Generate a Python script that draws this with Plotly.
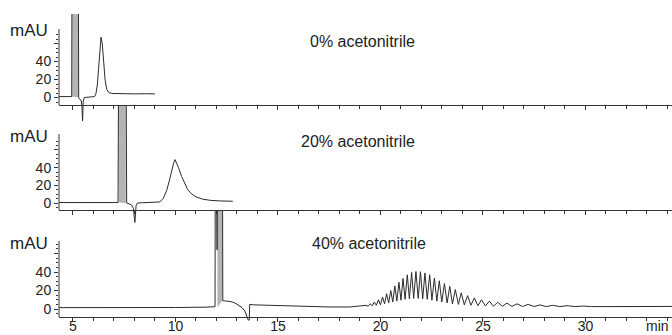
import plotly.graph_objects as go

# ---------------- data (time in min, signal in mAU) ----------------
labels = ["0% acetonitrile", "20% acetonitrile", "40% acetonitrile"]

# 0 % acetonitrile
p1_t = [4.32, 4.6, 4.9, 4.94, 4.95, 5.27, 5.28, 5.33, 5.4, 5.44, 5.47, 5.5, 5.55, 5.7, 5.9,
        6.05, 6.12, 6.19, 6.25, 6.31, 6.37, 6.43, 6.5, 6.57, 6.65, 6.75, 6.9, 7.2, 7.6, 8.0, 8.5, 9.0]
p1_v = [1.0, 0.8, 1.0, 1.0, 95, 95, 0, -2, -3, -10, -26, -5, 0, 0.5, 0.5,
        1.0, 4, 14, 32, 55, 67, 60, 38, 19, 9, 5.5, 4.5, 4.2, 4.3, 4.0, 4.2, 4.0]
p1_sat_t = [4.97, 4.97, 5.25, 5.25]
p1_sat_v = [1.0, 95, 95, 0]

# 20 % acetonitrile
p2_t = [4.32, 5.5, 7.0, 7.2, 7.22, 7.6, 7.62, 7.7, 7.85, 7.95, 8.02, 8.08, 8.15, 8.4, 8.8, 9.1,
        9.24, 9.4, 9.57, 9.7, 9.81, 9.9, 9.98, 10.05, 10.15, 10.3, 10.45, 10.6, 10.8, 11.0, 11.3,
        11.7, 12.2, 12.8]
p2_v = [0.5, 0.5, 0.5, 0.5, 112, 112, 0, -1, -2, -6, -22, -3, 0, 0.3, 0.5, 0.8,
        1.2, 5, 14, 25, 36, 44, 49, 46, 40, 30, 22, 15, 10, 7, 4.5,
        3, 2.3, 2]
p2_sat_t = [7.25, 7.25, 7.57, 7.57]
p2_sat_v = [0.5, 112, 112, 0]

# 40 % acetonitrile : baseline / injection part
p3_t = [4.32, 6.0, 8.0, 10.0, 11.5, 11.9, 11.93, 11.94, 12.02, 12.03, 12.04, 12.3, 12.31, 12.5,
        12.7, 12.9, 13.1, 13.25, 13.38, 13.48, 13.55, 13.6, 13.62, 13.8, 14.2, 14.8, 15.5, 16.4,
        17.5, 18.5, 18.9, 19.15]
p3_v = [1.5, 1.4, 1.5, 1.6, 2.0, 2.5, 2.5, 110, 110, 64, 110, 110, 9, 8.5,
        8, 6.5, 4, 1.5, -2, -7, -12, -12, 5, 4.5, 4.2, 3.5, 3.0, 2.5,
        2.2, 2.2, 2.8, 3.2]
p3_sat_t = [12.06, 12.06, 12.28, 12.28]
p3_sat_v = [2.5, 110, 110, 9]

# oligomer ladder : peak apexes and the valleys that follow them
osc_peak_t = [19.3, 19.5, 19.7, 19.9, 20.1, 20.3, 20.5, 20.7, 20.9, 21.1, 21.31, 21.52, 21.73,
              21.95, 22.17, 22.4, 22.63, 22.87, 23.12, 23.38, 23.65, 23.94, 24.25, 24.58, 24.93,
              25.31, 25.72, 26.17, 26.66, 27.2, 27.78, 28.4, 29.1, 29.9]
osc_peak_v = [4, 5.5, 7.5, 10, 13, 16.5, 20, 25, 29, 33, 37, 39.5, 40.5,
              40.3, 39, 37, 33.5, 30.5, 27.5, 24.5, 21, 17.5, 14.5, 12, 10,
              8.5, 7.3, 6.4, 5.6, 5, 4.4, 4, 3.6, 3.2]
osc_valley_t = [19.4, 19.6, 19.8, 20.0, 20.2, 20.4, 20.6, 20.8, 21.0, 21.2, 21.41, 21.62, 21.84,
                22.06, 22.28, 22.51, 22.75, 22.99, 23.25, 23.51, 23.8, 24.09, 24.41, 24.75, 25.12,
                25.51, 25.94, 26.41, 26.93, 27.49, 28.09, 28.75, 29.5, 30.3]
osc_valley_v = [3, 3.5, 4, 4.5, 5.5, 6.5, 7.5, 8.5, 9.5, 10.5, 11, 11.5, 11.5,
                11, 10.5, 9.5, 8.5, 7.5, 6.5, 5.5, 5, 4.5, 4, 3.5, 3.2,
                3, 2.9, 2.8, 2.7, 2.7, 2.6, 2.6, 2.6, 2.6]
tail_t = [31.0, 32.0, 33.0, 34.22]
tail_v = [2.8, 2.6, 2.7, 2.8]

y_tickvals = [0, 20, 40, 60]
y_ticktext = ["0", "20", "40", ""]
y_minor_vals = [-5, 5, 10, 15, 25, 30, 35, 45, 50, 55, 65, 70]
x_tickvals = [5, 10, 15, 20, 25, 30]
x_minor_vals = [m for m in range(5, 35) if m % 5]

# ---------------- build the 40 % trace ----------------
osc = sorted(list(zip(osc_peak_t, osc_peak_v)) + list(zip(osc_valley_t, osc_valley_v)))
p3_all_t = p3_t + [a for a, _ in osc] + tail_t
p3_all_v = p3_v + [b for _, b in osc] + tail_v

# ---------------- layout geometry (pixels of the 672x335 page) ----------------
W, H = 672, 335
ML = 59
FONT = "Liberation Sans, Arial, Helvetica, sans-serif"
LINE = "#2b2b2b"
AX = "#333333"

def pf(py):
    return 1 - py / H

# (axis top px, axis bottom px, zero px, px per mAU, window top px, window bottom px)
geo = [
    (29, 105, 97.5, 0.90, 14, 125),
    (134, 210, 203.0, 0.885, 106, 228),
    (241, 317, 309.0, 0.925, 211, 325),
]

fig = go.Figure()
layout = dict(
    width=W, height=H,
    margin=dict(l=ML, r=0, t=0, b=0, autoexpand=False),
    paper_bgcolor="white", plot_bgcolor="rgba(0,0,0,0)",
    showlegend=False,
    font=dict(family=FONT, size=14, color="#222"),
)

series = [(p1_t, p1_v, p1_sat_t, p1_sat_v),
          (p2_t, p2_v, p2_sat_t, p2_sat_v),
          (p3_all_t, p3_all_v, p3_sat_t, p3_sat_v)]

shapes = []
for i, (top, bot, zero, ppu, etop, ebot) in enumerate(geo):
    n = i + 1
    xs = "" if n == 1 else str(n)

    def val(py, zero=zero, ppu=ppu):
        return (zero - py) / ppu

    layout[f"xaxis{xs}"] = dict(
        domain=[0, 1], range=[4.32, 34.22], anchor="free", position=pf(bot),
        showline=True, linecolor=AX, linewidth=1.4 if n == 3 else 1,
        ticks="outside", ticklen=4, tickcolor=AX, tickwidth=1,
        tickmode="array", tickvals=x_tickvals, showticklabels=(n == 3),
        ticklabelstandoff=-8,
        tickfont=dict(size=14, color="#222", family=FONT),
        minor=dict(tickmode="array", tickvals=x_minor_vals, ticks="outside",
                   ticklen=3, tickcolor=AX),
        showgrid=False, zeroline=False, fixedrange=True, automargin=False,
    )
    layout[f"yaxis{xs}"] = dict(
        domain=[pf(ebot), pf(etop)], range=[val(ebot), val(etop)], anchor=f"x{xs}",
        showline=False,
        ticks="outside", ticklen=4, tickcolor=AX,
        tickmode="array", tickvals=y_tickvals, ticktext=y_ticktext,
        tickfont=dict(size=14, color="#222", family=FONT),
        minor=dict(tickmode="array", tickvals=y_minor_vals, ticks="outside",
                   ticklen=2, tickcolor=AX),
        showgrid=False, zeroline=False, fixedrange=True, automargin=False,
    )
    # vertical axis line (only over the calibrated part of the window)
    shapes.append(dict(type="line", xref="paper", yref="paper", x0=0, x1=0,
                       y0=pf(bot), y1=pf(top), line=dict(color=AX, width=1)))

    t, v, st, sv = series[i]
    fig.add_trace(go.Scatter(x=st, y=sv, mode="lines", fill="toself",
                             fillcolor="#b4b4b4", line=dict(color="#b4b4b4", width=0.5),
                             xaxis=f"x{xs}", yaxis=f"y{xs}", hoverinfo="skip"))
    fig.add_trace(go.Scatter(x=t, y=v, mode="lines", line=dict(color=LINE, width=1),
                             xaxis=f"x{xs}", yaxis=f"y{xs}"))

annotations = []
for i, (top, bot, zero, ppu, etop, ebot) in enumerate(geo):
    annotations.append(dict(text="mAU", xref="paper", yref="paper", x=0, y=pf(top + 2),
                            xanchor="right", yanchor="middle", xshift=-9, showarrow=False,
                            font=dict(size=17, family=FONT, color="#222")))
label_pos = [(362, 42), (358, 141), (369, 243)]
for lab, (lx, ly) in zip(labels, label_pos):
    annotations.append(dict(text=lab, xref="paper", yref="paper", x=(lx - ML) / (W - ML),
                            y=pf(ly), xanchor="center", yanchor="middle", showarrow=False,
                            font=dict(size=16, family=FONT, color="#222")))
annotations.append(dict(text="min", xref="paper", yref="paper", x=(657 - ML) / (W - ML),
                        y=pf(326), xanchor="center", yanchor="middle", showarrow=False,
                        font=dict(size=14, family=FONT, color="#222")))
layout["annotations"] = annotations
layout["shapes"] = shapes

fig.update_layout(**layout)
fig.write_html("out.html", config={"displayModeBar": False, "staticPlot": True},
               post_script="document.body.style.margin='0';document.body.style.overflow='hidden';")
